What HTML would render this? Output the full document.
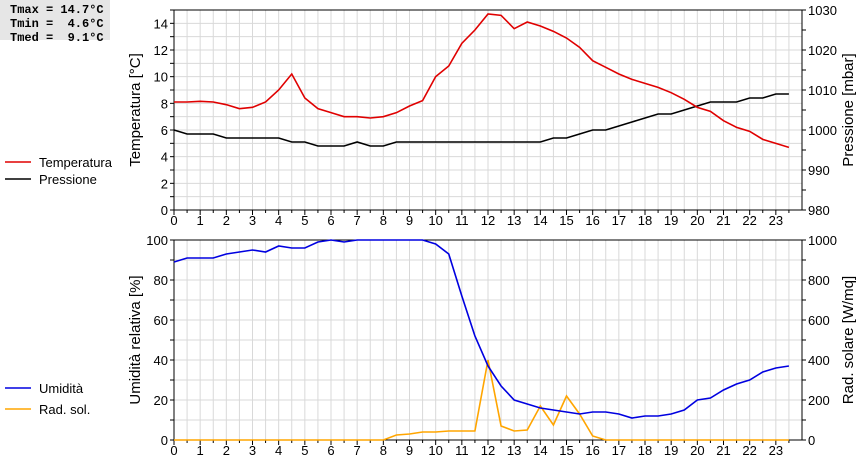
<!DOCTYPE html>
<html><head><meta charset="utf-8"><style>
body{margin:0;background:#fff;width:860px;height:460px;overflow:hidden}
svg text{font-family:"Liberation Sans",sans-serif;font-size:13px;fill:#000}
.info{position:absolute;left:0;top:0;width:110px;height:40px;background:#e6e6e6;font-family:"Liberation Mono",monospace;font-weight:bold;font-size:12px;line-height:14px;padding:3px 0 0 10px;box-sizing:border-box;white-space:pre}
</style></head><body>
<div class="info">Tmax = 14.7°C
Tmin =  4.6°C
Tmed =  9.1°C</div>
<svg id="c" width="860" height="460" style="position:absolute;left:0;top:0"></svg>
<script>
const hours=[0,0.5,1,1.5,2,2.5,3,3.5,4,4.5,5,5.5,6,6.5,7,7.5,8,8.5,9,9.5,10,10.5,11,11.5,12,12.5,13,13.5,14,14.5,15,15.5,16,16.5,17,17.5,18,18.5,19,19.5,20,20.5,21,21.5,22,22.5,23,23.5];
const temperature=[8.1,8.1,8.15,8.1,7.9,7.6,7.7,8.1,9,10.2,8.4,7.6,7.3,7.0,7.0,6.9,7.0,7.3,7.8,8.2,10,10.8,12.5,13.5,14.7,14.6,13.6,14.1,13.8,13.4,12.9,12.2,11.2,10.7,10.2,9.8,9.5,9.2,8.8,8.3,7.7,7.4,6.7,6.2,5.9,5.3,5.0,4.7];
const pressure=[1000,999,999,999,998,998,998,998,998,997,997,996,996,996,997,996,996,997,997,997,997,997,997,997,997,997,997,997,997,998,998,999,1000,1000,1001,1002,1003,1004,1004,1005,1006,1007,1007,1007,1008,1008,1009,1009];
const humidity=[89,91,91,91,93,94,95,94,97,96,96,99,100,99,100,100,100,100,100,100,98,93,72,52,37,27,20,18,16,15,14,13,14,14,13,11,12,12,13,15,20,21,25,28,30,34,36,37];
const solar=[0,0,0,0,0,0,0,0,0,0,0,0,0,0,0,0,0,25,30,40,40,45,45,45,400,70,45,50,170,75,220,130,20,0,0,0,0,0,0,0,0,0,0,0,0,0,0,0];
const xTicks=[0,1,2,3,4,5,6,7,8,9,10,11,12,13,14,15,16,17,18,19,20,21,22,23];
const tempTicks=[0,2,4,6,8,10,12,14];
const pressTicks=[980,990,1000,1010,1020,1030];
const humTicks=[0,20,40,60,80,100];
const solTicks=[0,200,400,600,800,1000];

const svg=document.getElementById('c');const NS='http://www.w3.org/2000/svg';
function el(t,a,name,p){const e=document.createElementNS(NS,t);for(const k in a)e.setAttribute(k,a[k]);


(p||svg).appendChild(e);return e;}
const X0=174,X1=802;
const x=h=>X0+h/24*(X1-X0);
function panel(top,bot,lmin,lmax,rmin,rmax,lt,rt,lstep,rstep,ltitle,rtitle,s1,s2,sc1,sc2,name){
  const g=el('g',{},name);
  const yl=v=>bot-(v-lmin)/(lmax-lmin)*(bot-top);
  const yr=v=>bot-(v-rmin)/(rmax-rmin)*(bot-top);
  for(let h=0.5;h<24;h+=0.5)el('line',{x1:x(h),x2:x(h),y1:top,y2:bot,stroke:'#d9d9d9'},'v-grid',g);
  for(let v=lmin+lstep;v<lmax;v+=lstep)el('line',{x1:X0,x2:X1,y1:yl(v),y2:yl(v),stroke:'#d9d9d9'},'h-grid',g);
  el('rect',{x:X0,y:top,width:X1-X0,height:bot-top,fill:'none',stroke:'#000'},'plot-frame',g);
  for(let h=0;h<24;h+=0.5)el('line',{x1:x(h),x2:x(h),y1:bot,y2:bot+(h%1?3:5),stroke:'#000'},'x-tick',g);
  xTicks.forEach(h=>{const t=el('text',{x:x(h),y:bot+15,'text-anchor':'middle'},'x-tick-label',g);t.textContent=h;});
  for(let v=lmin;v<=lmax;v+=lstep)el('line',{x1:X0-4,x2:X0,y1:yl(v),y2:yl(v),stroke:'#000'},'left-tick',g);
  lt.forEach(v=>{const t=el('text',{x:X0-6,y:yl(v)+5,'text-anchor':'end'},'left-tick-label',g);t.textContent=v;});
  for(let v=rmin;v<=rmax;v+=rstep)el('line',{x1:X1,x2:X1+4,y1:yr(v),y2:yr(v),stroke:'#000'},'right-tick',g);
  rt.forEach(v=>{const t=el('text',{x:X1+6,y:yr(v)+5},'right-tick-label',g);t.textContent=v;});
  const mid=(top+bot)/2;
  let t=el('text',{x:0,y:0,transform:`translate(140,${mid}) rotate(-90)`,'text-anchor':'middle'},'left-axis-title',g);t.textContent=ltitle;t.style.fontSize='15px';
  t=el('text',{x:0,y:0,transform:`translate(853,${mid}) rotate(-90)`,'text-anchor':'middle'},'right-axis-title',g);t.textContent=rtitle;t.style.fontSize='15px';
  el('polyline',{points:hours.map((h,i)=>x(h)+','+yr(s2[i])).join(' '),fill:'none',stroke:sc2,'stroke-width':1.6},'series-2',g);
  el('polyline',{points:hours.map((h,i)=>x(h)+','+yl(s1[i])).join(' '),fill:'none',stroke:sc1,'stroke-width':1.6},'series-1',g);
}
panel(10,210,0,15,980,1030,tempTicks,pressTicks,1,5,'Temperatura [°C]','Pressione [mbar]',temperature,pressure,'#e00000','#000','top-chart');
panel(240,440,0,100,0,1000,humTicks,solTicks,10,100,'Umidità relativa [%]','Rad. solare [W/mq]',humidity,solar,'#0000e0','#ffa500','bottom-chart');
function legend(y,color,label,name){el('line',{x1:5,x2:31,y1:y,y2:y,stroke:color,'stroke-width':1.6},name+'-swatch');const t=el('text',{x:39,y:y+5},name+'-label');t.textContent=label;}
legend(162,'#e00000','Temperatura','legend-temperatura');
legend(179,'#000','Pressione','legend-pressione');
legend(388,'#0000e0','Umidità','legend-umidita');
legend(409,'#ffa500','Rad. sol.','legend-rad-sol');
</script>
</body></html>
